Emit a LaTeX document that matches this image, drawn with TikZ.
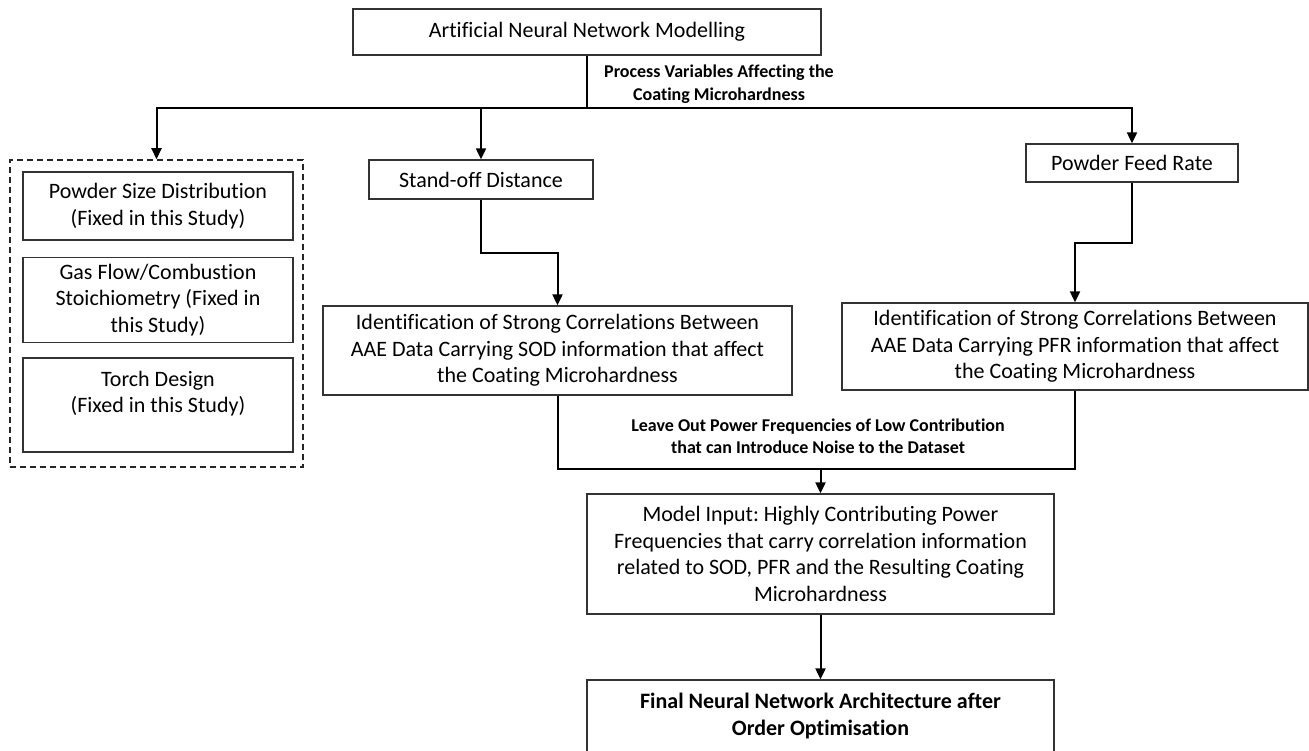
\documentclass[tikz,border=0pt]{standalone}
\usepackage{fontspec}
\setmainfont{Carlito}[Ligatures=NoCommon]
\frenchspacing
\usetikzlibrary{arrows.meta}
\tikzset{
  box/.style={draw=black!80, line width=1.3pt, align=center, inner sep=0pt,
    font=\fontsize{22}{26.5}\selectfont},
  groupbox/.style={draw=black!85, line width=1.5pt, dash pattern=on 6pt off 4pt, inner sep=0pt},
  lbl/.style={align=center, font=\bfseries\fontsize{18}{22.5}\selectfont},
  wire/.style={line width=2pt},
  link/.style={line width=2pt, -{Triangle[length=11pt,width=10pt]}},
}
\begin{document}
\begin{tikzpicture}[x=1pt,y=-1pt]
  \useasboundingbox (0,0) rectangle (1309,751);
  % top
  \node[box, minimum width=468pt, minimum height=46pt] (ann) at (587,32) {Artificial Neural Network Modelling};
  \node[lbl] (varlbl) at (719,84) {Process Variables Affecting the\\Coating Microhardness};
  % fixed variables
  \node[groupbox, minimum width=293pt, minimum height=307pt] (grp) at (156.5,313.5) {};
  \node[box, minimum width=270pt, minimum height=68pt] (psd) at (158,206) {Powder Size Distribution\\(Fixed in this Study)};
  \node[box, minimum width=270pt, minimum height=85pt] (gas) at (158,300) {Gas Flow/Combustion\\Stoichiometry (Fixed in\\this Study)};
  \node[box, minimum width=270pt, minimum height=94pt] (torch) at (158,405) {Torch Design\\(Fixed in this Study)\\\mbox{}};
  % varied variables
  \node[box, minimum width=224pt, minimum height=39pt] (sod) at (481,179.5) {Stand-off Distance};
  \node[box, minimum width=212pt, minimum height=38pt] (pfr) at (1132,163) {Powder Feed Rate};
  \node[box, minimum width=469pt, minimum height=89pt] (sodcor) at (557.5,350.5) {Identification of Strong Correlations Between\\AAE Data Carrying SOD information that affect\\the Coating Microhardness};
  \node[box, minimum width=466pt, minimum height=87pt] (pfrcor) at (1075,346.5) {Identification of Strong Correlations Between\\AAE Data Carrying PFR information that affect\\the Coating Microhardness};
  \node[lbl] (noiselbl) at (818,436) {Leave Out Power Frequencies of Low Contribution\\that can Introduce Noise to the Dataset};
  \node[box, minimum width=467pt, minimum height=120pt] (input) at (820.5,554) {Model Input: Highly Contributing Power\\Frequencies that carry correlation information\\related to SOD, PFR and the Resulting Coating\\Microhardness};
  \node[box, font=\bfseries\fontsize{22}{26.5}\selectfont, minimum width=467pt, minimum height=72pt] (final) at (820.5,716) {Final Neural Network Architecture after\\Order Optimisation};

  % connectors
  \coordinate (split) at (587,108);
  \coordinate (merge) at (820.5,469);
  \draw[wire] (ann.south) -- (split);
  \draw[link] (split) -| (grp.north);
  \draw[link] (split) -| (pfr.north);
  \draw[link] (split -| sod.north) -- (sod.north);
  \draw[link] (sod.south) -- ++(0,53.5) -| (sodcor.north);
  \draw[link] (pfr.south) -- ++(0,60) -| (pfrcor.north);
  \draw[wire] (sodcor.south) |- (merge) -| (pfrcor.south);
  \draw[link] (merge) -- (input.north);
  \draw[link] (input.south) -- (final.north);
\end{tikzpicture}
\end{document}
